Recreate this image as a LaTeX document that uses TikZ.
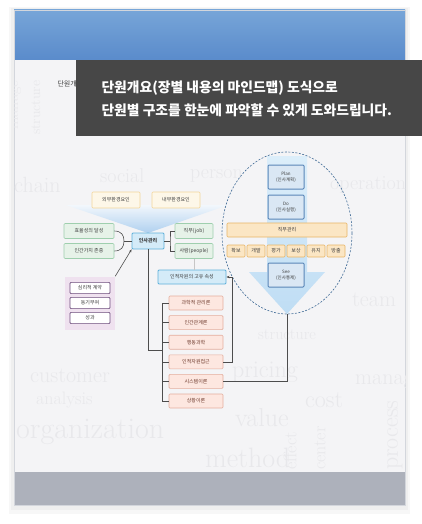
\documentclass[tikz,border=0pt]{standalone}
\usepackage{xcolor}
\usepackage{fontspec}
\usepackage{tikz}
\usetikzlibrary{positioning,arrows.meta}
\newfontfamily\kr{Noto Sans CJK KR}

\definecolor{hdrtop}{HTML}{77A5D8}
\definecolor{hdrbot}{HTML}{5A8BCB}
\definecolor{bodybg}{HTML}{F4F4F6}
\definecolor{footbg}{HTML}{ADB1BB}
\definecolor{panelline}{HTML}{D3D6DC}
\definecolor{markgray}{HTML}{E8E8EB}
\definecolor{tipbg}{HTML}{474747}
\definecolor{envfill}{HTML}{FDF7E8}
\definecolor{envline}{HTML}{F2D59B}
\definecolor{goalfill}{HTML}{E6F2E8}
\definecolor{goalline}{HTML}{9FCFAE}
\definecolor{corefill}{HTML}{D4EBF8}
\definecolor{coreline}{HTML}{5FB0DA}
\definecolor{theofill}{HTML}{FDE7E0}
\definecolor{theoline}{HTML}{E4AE9E}
\definecolor{theotext}{HTML}{6E3A2C}
\definecolor{psyfill}{HTML}{EFE1EF}
\definecolor{psyline}{HTML}{6B4A7A}
\definecolor{cycfill}{HTML}{DAE7F4}
\definecolor{cycline}{HTML}{5A86B8}
\definecolor{mgmtfill}{HTML}{FBE6C4}
\definecolor{mgmtline}{HTML}{E8B565}
\definecolor{arrtop}{HTML}{DCEEFA}
\definecolor{arrbot}{HTML}{BFDDF4}
\definecolor{funtop}{HTML}{F2F7FC}
\definecolor{funbot}{HTML}{AFD0EF}
\definecolor{ellline}{HTML}{3F6B96}
\definecolor{labeltext}{HTML}{3D3D3D}
\definecolor{wirecol}{HTML}{4D4D4D}

\tikzset{
    envbox/.style={
        draw=envline, fill=envfill, rounded corners=1pt,
        minimum width=48pt, minimum height=16pt,
        text=labeltext, line width=0.6pt
    },
    goalbox/.style={
        draw=goalline, fill=goalfill, rounded corners=1pt,
        minimum width=50pt, minimum height=15pt,
        text=labeltext, line width=0.6pt
    },
    corebox/.style={
        draw=coreline, fill=corefill, rounded corners=1pt,
        text=labeltext, line width=0.9pt
    },
    theorybox/.style={
        draw=theoline, fill=theofill, rounded corners=1pt,
        minimum width=54pt, minimum height=14pt,
        text=theotext, line width=0.6pt
    },
    psyframe/.style={
        fill=psyfill, minimum width=50pt, minimum height=53pt
    },
    psybox/.style={
        draw=psyline, fill=white, rounded corners=1pt,
        minimum width=40pt, minimum height=10pt,
        text=labeltext, line width=0.6pt
    },
    cyclebox/.style={
        draw=cycline, fill=cycfill, rounded corners=1pt, align=center,
        minimum width=36pt, minimum height=24pt, inner sep=1pt,
        text=labeltext, line width=1pt,
        font=\kr\fontsize{4.5}{6}\selectfont
    },
    mgmtbox/.style={
        draw=mgmtline, fill=mgmtfill, rounded corners=1pt,
        minimum height=14pt, inner sep=1pt,
        text=labeltext, line width=0.6pt
    },
    wire/.style={
        draw=wirecol, line width=0.6pt
    },
    watermark/.style={
        text=markgray, anchor=west, inner sep=0pt
    }
}

\begin{document}
\begin{tikzpicture}[x=1pt, y=-1pt, every node/.style={font=\kr\fontsize{5}{6}\selectfont}]
    \useasboundingbox (0,0) rectangle (422,524);
    % Panel
    \fill[black, opacity=0.03] (9,7) rectangle (410,514);
    \fill[black, opacity=0.03] (11,8) rectangle (408,510);
    \fill[bodybg] (14,60) rectangle (405,472);
    \shade[top color=hdrtop, bottom color=hdrbot] (14,10) rectangle (405,60);
    \fill[footbg] (14,472) rectangle (405,505);
    \draw[panelline, line width=0.6pt] (14,10) rectangle (405,505);
    % Background words
    \begin{scope}
        \clip (14,60) rectangle (405,472);
        \foreach \w/\x/\y/\s/\r in {
            chain/14/185/22/0, social/100/176/20/0, person/190/176/20/0,
            manage/16/130/16/90, structure/36/135/14/90,
            pricing/232/372/24/0,
            customer/30/376/22/0, analysis/36/400/18/0,
            organization/16/432/30/0,
            method/205/458/28/0, value/235/418/26/0,
            cost/305/400/24/0, manage/355/382/22/0,
            process/395/470/24/90, effect/290/470/18/90,
            center/320/470/18/90, operation/330/185/20/0,
            team/352/300/22/0, structure/258/335/16/0} {
            \node[watermark, font=\fontsize{\s}{\s}\selectfont, rotate=\r] at (\x,\y) {\w};
        }
    \end{scope}
    % Title label and tooltip
    \node[anchor=west, text=labeltext, font=\kr\fontsize{7}{8}\selectfont] (unit) at (54,84) {단원개요};
    \fill[tipbg] (76,60) rectangle (422,136);
    \node[anchor=west, text=white, font=\kr\bfseries\fontsize{13.8}{15}\selectfont] (tip1) at (98,88) {단원개요(장별 내용의 마인드맵) 도식으로};
    \node[anchor=west, text=white, font=\kr\bfseries\fontsize{13.8}{15}\selectfont] (tip2) at (98,110) {단원별 구조를 한눈에 파악할 수 있게 도와드립니다.};
    % Funnel
    \shade[top color=funtop, bottom color=funbot] (66,205) -- (228,205) -- (148,233) -- cycle;
    % Ellipse and cycle arrow
    \shade[top color=arrtop, bottom color=arrbot]
        (267,156) -- (307,156) -- (307,272) -- (325,272) -- (287,314) -- (249,272) -- (267,272) -- cycle;
    \draw[ellline, dash pattern=on 2pt off 1.5pt, line width=0.6pt] (287,233) ellipse [x radius=65, y radius=81];
    \coordinate (apex) at (287,314);
    % Nodes
    \node[envbox] (ext) at (116,200) {외부환경요인};
    \node[envbox] (int) at (176,200) {내부환경요인};
    \node[goalbox] (eff) at (89,231) {효율성의 달성};
    \node[goalbox] (hum) at (89,251) {인간가치 존중};
    \node[corebox, minimum width=32pt, minimum height=16pt, font=\kr\bfseries\fontsize{5}{6}\selectfont] (hrm) at (148,241) {인사관리};
    \node[goalbox, minimum width=38pt] (job) at (194,231) {직무(job)};
    \node[goalbox, minimum width=38pt] (ppl) at (194,251) {사람(people)};
    \node[corebox, minimum width=68pt, minimum height=14pt] (attr) at (192,277) {인적자원의 고유 속성};
    \foreach \t [count=\i] in {과학적 관리론, 인간관계론, 행동과학, 인적자원접근, 시스템이론, 상황이론} {
        \node[theorybox] (t\i) at (196,283.4+19.6*\i) {\t};
    }
    \node[psyframe] (psy) at (90,303) {};
    \foreach \t [count=\i] in {심리적 계약, 동기부여, 성과} {
        \node[psybox] (p\i) at (90,273+15*\i) {\t};
    }
    \node[cyclebox] (plan) at (286,177) {Plan\\(인사계획)};
    \node[cyclebox] (do) at (286,207) {Do\\(인사실행)};
    \node[mgmtbox, minimum width=120pt] (mgmt) at (287,230) {직무관리};
    \foreach \t [count=\i] in {확보, 개발, 평가, 보상, 유지, 방출} {
        \node[mgmtbox, minimum width=18pt, minimum height=12pt] (f\i) at (216+20*\i,251) {\t};
    }
    \node[cyclebox] (see) at (286,275) {See\\(인사통제)};
    % Connectors
    \coordinate (brc) at (124,241);
    \draw[wire] (eff.east) .. controls +(7,0) and +(0,-6) .. (brc);
    \draw[wire] (hum.east) .. controls +(7,0) and +(0,6) .. (brc);
    \draw[wire] (brc) -- (hrm.west);
    \coordinate (jbk) at (170,241);
    \draw[wire] (hrm.east) -- (jbk);
    \draw[wire] (job.west) -| (jbk) |- (ppl.west);
    \draw[wire, draw=gray!45] (ppl.south) -- (ppl.south |- attr.north);
    \coordinate (tbk) at (163,350);
    \draw[wire] (hrm.south) |- (tbk);
    \draw[wire] (t1.west) -- ++(-6,0) |- (t6.west);
    \foreach \i in {2,...,5} {
        \draw[wire] (t\i.west) -- ++(-6,0);
    }
    \draw[wire, -{Stealth[length=3pt,width=2.5pt]}] (t4.east) -- ++(9,0) |- (attr.east);
    \draw[wire] (t5.east) -| (apex);
    \draw[wire, -{Stealth[length=3pt,width=2.5pt]}] (psy.north east) -- (hrm.south west);
\end{tikzpicture}
\end{document}
